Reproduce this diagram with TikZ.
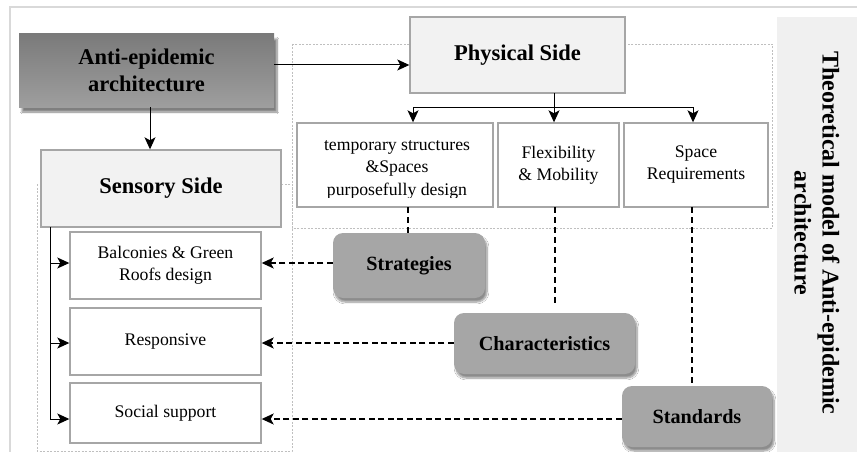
\documentclass[tikz,border=0pt]{standalone}
\usepackage{fontspec}
\setmainfont{Liberation Serif}
\usetikzlibrary{arrows.meta,shadows.blur,calc}
\definecolor{frameg}{HTML}{D9D9D9}
\definecolor{panelg}{HTML}{F0F0F0}
\definecolor{boxedge}{HTML}{A6A6A6}
\definecolor{lightfill}{HTML}{F2F2F2}
\definecolor{darkfill}{HTML}{A6A6A6}
\definecolor{grpline}{HTML}{BFBFBF}
\tikzset{
  heading/.style={draw=boxedge, line width=1.4pt, fill=lightfill, font=\fontsize{22.5}{26}\selectfont\bfseries, inner sep=0pt, align=center},
  item/.style={draw=boxedge, line width=1.4pt, fill=white, font=\fontsize{17.7}{22}\selectfont, inner sep=0pt, align=center},
  tag/.style={fill=darkfill, rounded corners=10pt, font=\fontsize{20.2}{24}\selectfont\bfseries, inner sep=0pt,
    blur shadow={shadow xshift=2pt, shadow yshift=-4pt, shadow blur steps=8, shadow opacity=45}},
  rootbox/.style={top color=black!52, bottom color=black!38, font=\fontsize{22.5}{27}\selectfont\bfseries, inner sep=0pt, align=center,
    blur shadow={shadow xshift=3pt, shadow yshift=-5pt, shadow blur steps=8, shadow opacity=50}},
  arr/.style={line width=1pt, -{Stealth[length=12pt,width=11pt,inset=3pt]}},
  dasharr/.style={line width=1.3pt, dash pattern=on 6pt off 3.5pt, -{Stealth[length=12pt,width=11pt,inset=3pt]}},
  dline/.style={line width=1.4pt, dash pattern=on 6pt off 4pt},
  grp/.style={draw=grpline, line width=0.6pt, dash pattern=on 2pt off 1.5pt},
}
\begin{document}
\begin{tikzpicture}[x=1pt,y=-1pt]
\useasboundingbox (0,0) rectangle (857,452);
\fill[white] (0,0) rectangle (857,452);
% outer frame
\draw[frameg, line width=1.5pt] (10,470) -- (10,7) -- (870,7);
% right panel
\fill[panelg] (777,17) rectangle (857,460);
\node[rotate=-90, font=\fontsize{24}{28}\selectfont\bfseries, align=center] (title) at (817,233)
  {Theoretical model of Anti-epidemic\\architecture};
% group frames
\draw[grp] (292,44) rectangle (772,228);
\draw[grp] (37,184) rectangle (292,451);

% main nodes
\node[rootbox, minimum width=255pt, minimum height=73pt] (anti) at (146.5,70.5) {Anti-epidemic\\architecture};
\node[heading, minimum width=215pt, minimum height=76pt] (phys) at (517.5,55) {Physical Side};
\node[heading, minimum width=240pt, minimum height=77pt] (sens) at (161,188.5) {Sensory Side};

% physical children
\node[item, minimum width=196pt, minimum height=84pt] (temp) at (395,165) {};
\begin{scope}
  \clip (298,124) rectangle (492,197.5);
  \node[font=\fontsize{17.7}{22.5}\selectfont, align=center, anchor=north, inner sep=0pt] (temptext) at (397,140)
    {temporary structures\\\&Spaces\\purposefully design};
\end{scope}
\node[item, minimum width=121pt, minimum height=84pt] (flex) at (558.5,165) {Flexibility\\\& Mobility};
\node[item, minimum width=144pt, minimum height=84pt] (space) at (696,165) {Space\\Requirements};

% tags
\node[tag, minimum width=152pt, minimum height=65pt] (strat) at (409,265.5) {Strategies};
\node[tag, minimum width=181pt, minimum height=61pt] (char) at (544.5,343.5) {Characteristics};
\node[tag, minimum width=150pt, minimum height=61pt] (stand) at (697,416.5) {Standards};

% sensory children
\node[item, minimum width=191pt, minimum height=67pt] (balc) at (165.5,265.5) {Balconies \& Green\\Roofs design};
\node[item, minimum width=191pt, minimum height=67pt] (resp) at (165.5,341.5) {Responsive};
\node[item, minimum width=191pt, minimum height=60pt] (soc) at (165.5,413) {Social support};

% root connectors
\coordinate (ae) at (274,65);
\draw[arr] (ae) -- (ae -| phys.west);
\coordinate (as) at (150,107);
\draw[arr] (as) -- (as |- sens.north);

% physical tree
\coordinate (pt) at (554,93);
\coordinate (pj) at (554,107);
\coordinate (pl) at (413,107);
\coordinate (pr) at (693,107);
\draw[line width=1pt] (pt) -- (pj);
\draw[line width=1pt] (pl) -- (pr);
\draw[arr] (pl) -- (pl |- temp.north);
\draw[arr] (pj) -- (pj |- flex.north);
\draw[arr] (pr) -- (pr |- space.north);

% dashed verticals
\coordinate (td) at (408,207);
\draw[dline] (td) -- (td |- strat.north);
\coordinate (fd) at (555,207);
\draw[dline] (fd) -- (555,306);
\coordinate (sd) at (692,207);
\draw[dline] (sd) -- (692,383);

% dashed arrows to sensory children
\draw[dasharr] (strat.west |- 0,263) -- (balc.east |- 0,263);
\draw[dasharr] (char.west |- 0,343) -- (resp.east |- 0,343);
\draw[dasharr] (stand.west |- 0,419) -- (soc.east |- 0,419);

% sensory tree
\coordinate (st) at (50,227);
\coordinate (sb) at (50,419);
\draw[line width=1pt] (st) -- (sb);
\draw[arr] (50,263) -- (balc.west |- 0,263);
\draw[arr] (50,343) -- (resp.west |- 0,343);
\draw[arr] (sb) -- (soc.west |- sb);
\end{tikzpicture}
\end{document}
